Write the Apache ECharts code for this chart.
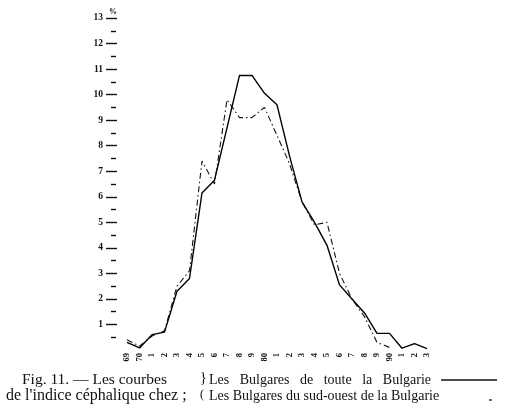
<!DOCTYPE html>
<html><head><meta charset="utf-8">
<script src="https://cdn.jsdelivr.net/npm/echarts@6/dist/echarts.min.js"></script>
<style>html,body{margin:0;padding:0;background:#fff}#c{width:511px;height:415px}</style>
</head><body><div id="c"></div>
<script>
// Cephalic index classes (x categories)
const categories = [69,70,71,72,73,74,75,76,77,78,79,80,81,82,83,84,85,86,87,88,89,90,91,92,93];
// Tick labels as printed
const tickLabels = ['69','70','1','2','3','4','5','6','7','8','9','80','1','2','3','4','5','6','7','8','9','90','1','2','3'];
// Les Bulgares de toute la Bulgarie (%)
const touteBulgarie = [0.3,0.08,0.6,0.7,2.3,2.8,6.15,6.65,8.7,10.75,10.75,10.05,9.6,7.6,5.8,5.0,4.1,2.55,2.0,1.45,0.65,0.65,0.07,0.25,0.05];
// Les Bulgares du sud-ouest de la Bulgarie (%)
const sudOuest = [0.4,0.15,0.55,0.75,2.5,3.1,7.4,6.5,9.8,9.1,9.1,9.5,8.4,7.3,5.8,4.9,5.0,3.0,2.0,1.3,0.3,0.1,null,null,null];
// y tick values
const yMajor = [1,2,3,4,5,6,7,8,9,10,11,12,13];
const yMinor = [0.5,1.5,2.5,3.5,4.5,5.5,6.5,7.5,8.5,9.5,10.5,11.5,12.5];

const chart = echarts.init(document.getElementById('c'), null, {renderer:'canvas'});
const serif = '"Liberation Serif","DejaVu Serif",serif';
chart.setOption({
  animation:false,
  backgroundColor:'#fff',
  grid:{left:127,right:84,top:18,bottom:65},
  xAxis:{
    type:'category', data:categories.map(String), boundaryGap:false,
    axisLine:{show:false}, axisTick:{show:false}, splitLine:{show:false},
    axisLabel:{interval:0, rotate:90, margin:3, fontSize:8.5, fontWeight:'bold', color:'#111', fontFamily:serif,
      formatter:(v,i)=>tickLabels[i]}
  },
  yAxis:[
    {type:'value', min:0, max:13, interval:1, position:'left', offset:10,
     axisLine:{show:false}, splitLine:{show:false},
     axisTick:{show:true, length:11, customValues:yMajor, lineStyle:{color:'#111', width:1.4}},
     axisLabel:{customValues:yMajor, margin:14, fontSize:9.5, fontWeight:'bold', color:'#111', fontFamily:serif}},
    {type:'value', min:0, max:13, interval:1, position:'left', offset:11,
     axisLine:{show:false}, splitLine:{show:false},
     axisTick:{show:true, length:5, customValues:yMinor, lineStyle:{color:'#111', width:1.4}},
     axisLabel:{show:false}}
  ],
  series:[
    {type:'line', data:touteBulgarie, yAxisIndex:0, symbol:'none', lineStyle:{color:'#000', width:1.4}},
    {type:'line', data:sudOuest, yAxisIndex:0, symbol:'none', connectNulls:false,
     lineStyle:{color:'#111', width:1.1, type:[6,3,1.5,3]}}
  ],
  graphic:[
    {type:'text', left:109, top:8, style:{text:'%', font:'bold 8px '+serif, fill:'#111'}},
    {type:'text', left:22, top:372, style:{text:'Fig. 11. — Les courbes', font:'15.5px '+serif, fill:'#111'}},
    {type:'text', left:6, top:388, style:{text:"de l'indice céphalique chez ;", font:'16px '+serif, fill:'#111'}},
    {type:'text', left:200, top:371, style:{text:'}', font:'14px '+serif, fill:'#111'}},
    {type:'text', left:200, top:389, style:{text:'(', font:'12px '+serif, fill:'#111'}},
    {type:'text', left:209, top:373, style:{text:'Les   Bulgares   de   toute   la   Bulgarie', font:'14px '+serif, fill:'#111'}},
    {type:'text', left:209, top:389, style:{text:'Les Bulgares du sud-ouest de la Bulgarie', font:'14px '+serif, fill:'#111'}},
    {type:'line', shape:{x1:441,y1:380,x2:497,y2:380}, style:{stroke:'#111', lineWidth:1.5}},
    {type:'line', shape:{x1:489,y1:400,x2:492,y2:400}, style:{stroke:'#111', lineWidth:1.2}}
  ]
});
</script></body></html>
